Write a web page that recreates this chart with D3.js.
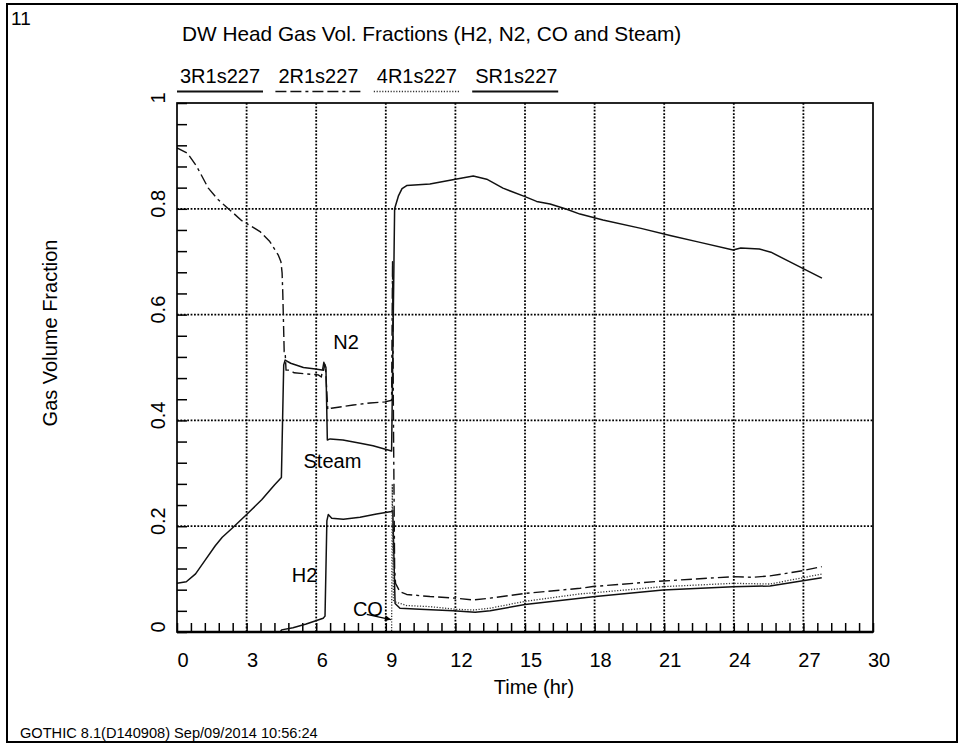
<!DOCTYPE html>
<html>
<head>
<meta charset="utf-8">
<script src="https://cdn.jsdelivr.net/npm/d3@7"></script>
<style>
  html, body { margin: 0; padding: 0; background: #fff; }
  svg { display: block; font-family: "Liberation Sans", Arial, sans-serif; }
</style>
</head>
<body>
<svg id="chart" width="965" height="746"></svg>
<script>
// ---- data: time (hr) vs gas volume fraction ----
const xTicks = [0, 3, 6, 9, 12, 15, 18, 21, 24, 27, 30];
const yTicks = [0, 0.2, 0.4, 0.6, 0.8, 1];
const yTickLabels = ["0", "0.2", "0.4", "0.6", "0.8", "1"];
const seriesNames = ["3R1s227", "2R1s227", "4R1s227", "SR1s227"];

// H2
const h2 = [[0,0],[4.45,0],[4.51,0.004],[5.0,0.008],[5.57,0.015],[6.3,0.026],[6.38,0.03],
  [6.46,0.21],[6.52,0.222],[6.67,0.215],[7.17,0.213],[7.89,0.217],[8.6,0.223],[9.25,0.228],
  [9.3,0.23],[9.4,0.054],[9.61,0.045],[10.47,0.043],[11.9,0.040],[12.85,0.0375],[13.5,0.040],
  [15.0,0.052],[17.37,0.0637],[17.93,0.0667],[20.95,0.0794],[23.97,0.0857],[25.56,0.087],
  [26.98,0.097],[27.79,0.1026]];

// N2
const n2 = [[0,0.915],[0.45,0.905],[0.85,0.88],[1.35,0.839],[1.78,0.817],[2.35,0.795],
  [2.78,0.778],[3.58,0.757],[4.0,0.738],[4.36,0.713],[4.48,0.70],[4.53,0.679],[4.56,0.64],
  [4.62,0.53],[4.66,0.53],[4.7,0.495],[4.85,0.495],[5.05,0.49],[6.09,0.486],[6.22,0.482],
  [6.33,0.51],[6.4,0.50],[6.5,0.42],[6.65,0.423],[7.6,0.429],[8.32,0.433],[8.97,0.435],
  [9.25,0.438],[9.29,0.70],[9.33,0.40],[9.38,0.12],[9.42,0.092],[9.61,0.076],[9.9,0.071],
  [10.9,0.067],[12.0,0.064],[12.77,0.0605],[13.5,0.064],[15.0,0.073],[17.37,0.0826],
  [17.93,0.086],[20.95,0.0964],[23.97,0.1046],[24.83,0.1034],[25.56,0.106],[26.98,0.116],
  [27.79,0.1235]];

// CO
const co = [[0,0],[9.25,0],[9.28,0.28],[9.33,0.06],[9.4,0.057],[9.9,0.05],[10.9,0.048],
  [12.0,0.043],[12.77,0.0416],[13.5,0.045],[15.0,0.058],[17.37,0.072],[17.93,0.074],
  [20.95,0.0857],[23.97,0.092],[25.56,0.0907],[26.98,0.1026],[27.79,0.1096]];

// Steam
const steam = [[0,0.092],[0.4,0.095],[0.8,0.11],[1.2,0.135],[1.65,0.163],[1.95,0.179],
  [2.4,0.197],[3.0,0.222],[3.65,0.25],[4.2,0.278],[4.5,0.292],[4.6,0.505],[4.66,0.514],
  [4.9,0.508],[5.45,0.50],[5.97,0.497],[6.32,0.495],[6.37,0.506],[6.42,0.50],[6.48,0.363],
  [6.6,0.365],[7.15,0.363],[7.9,0.357],[8.45,0.352],[9.25,0.342],[9.38,0.80],[9.55,0.825],
  [9.7,0.838],[9.9,0.844],[10.9,0.847],[12.0,0.856],[12.77,0.862],[13.35,0.856],[14.05,0.839],
  [15.0,0.823],[15.5,0.814],[16.08,0.809],[16.8,0.799],[17.37,0.79],[18.36,0.779],[20.0,0.763],
  [21.3,0.749],[22.5,0.737],[23.97,0.722],[24.3,0.726],[25.1,0.724],[25.6,0.718],[26.4,0.70],
  [27.8,0.669]];

// curve annotations, placed in data coordinates (hr, fraction)
const curveLabels = [
  { text: "N2",    t: 7.29, v: 0.548 },
  { text: "Steam", t: 6.70, v: 0.324 },
  { text: "H2",    t: 5.50, v: 0.108 },
  { text: "CO",    t: 8.23, v: 0.043 }
];
const coArrow = [[8.18, 0.0335], [9.22, 0.0236]];

// ---- drawing ----
const svg = d3.select("#chart");
const plot = { left: 177, right: 873, top: 103, bottom: 632 };
const x = d3.scaleLinear().domain([0, 30]).range([plot.left, plot.right]);
const y = d3.scaleLinear().domain([0, 1]).range([plot.bottom, plot.top]);

const dashStyles = {
  solid: null,
  dashdot: "11,4,11,4,3,4",
  dotted: "1.2,1.6"
};
const series = [
  { name: seriesNames[0], data: h2,    dash: dashStyles.solid,   width: 1.5, color: "#111" },
  { name: seriesNames[1], data: n2,    dash: dashStyles.dashdot, width: 1.4, color: "#111" },
  { name: seriesNames[2], data: co,    dash: dashStyles.dotted,  width: 1.3, color: "#333" },
  { name: seriesNames[3], data: steam, dash: dashStyles.solid,   width: 1.5, color: "#111" }
];

// outer page frame
svg.append("rect")
  .attr("x", 7).attr("y", 4).attr("width", 950).attr("height", 738)
  .attr("fill", "none").attr("stroke", "#000").attr("stroke-width", 2);

svg.append("text").attr("x", 11).attr("y", 25)
  .attr("font-size", 19).text("11");

svg.append("text")
  .attr("x", 182).attr("y", 41)
  .attr("font-size", 20.8)
  .text("DW Head Gas Vol. Fractions (H2, N2, CO and Steam)");

// legend row
const legend = svg.append("g");
const legStep = 98.4, legLen = 86;
seriesNames.forEach((name, i) => {
  const s = series[i];
  const x0 = plot.left + i * legStep;
  legend.append("text").attr("x", x0 + 3).attr("y", 83)
    .attr("font-size", 20).text(name);
  legend.append("line")
    .attr("x1", x0).attr("x2", x0 + legLen)
    .attr("y1", 91.5).attr("y2", 91.5)
    .attr("stroke", s.color).attr("stroke-width", s.width + 0.3)
    .attr("stroke-dasharray", s.dash);
});

// grid
const grid = svg.append("g").attr("stroke", "#000").attr("stroke-width", 1.8)
  .attr("stroke-dasharray", "1.8,1.6");
grid.selectAll(".vg").data(xTicks.slice(1, -1)).join("line")
  .attr("x1", d => x(d)).attr("x2", d => x(d))
  .attr("y1", plot.top).attr("y2", plot.bottom);
grid.selectAll(".hg").data(yTicks.slice(1, -1)).join("line")
  .attr("x1", plot.left).attr("x2", plot.right)
  .attr("y1", d => y(d)).attr("y2", d => y(d));

// minor ticks pointing inward
const xMinor = d3.range(0, 30.001, 0.6);
const yMinor = d3.range(0, 1.0001, 0.04);
svg.append("g").attr("transform", `translate(0,${plot.bottom})`)
  .call(d3.axisBottom(x).tickValues(xMinor).tickSizeInner(-9).tickSizeOuter(0).tickFormat(""))
  .call(g => g.select(".domain").remove())
  .selectAll("line").attr("stroke", "#000").attr("stroke-width", 1.5);
svg.append("g").attr("transform", `translate(${plot.left},0)`)
  .call(d3.axisLeft(y).tickValues(yMinor).tickSizeInner(-10).tickSizeOuter(0).tickFormat(""))
  .call(g => g.select(".domain").remove())
  .selectAll("line").attr("stroke", "#000").attr("stroke-width", 1.5);

// tick labels
svg.append("g").attr("transform", `translate(0,${plot.bottom})`)
  .call(d3.axisBottom(x).tickValues(xTicks).tickSize(0).tickPadding(21).tickFormat(d3.format("d")))
  .call(g => g.select(".domain").remove())
  .selectAll("text")
  .attr("dx", 5.5)
  .attr("font-size", 20).attr("font-family", "Liberation Sans, Arial, sans-serif")
  .attr("fill", "#000");

const yl = svg.append("g");
yl.selectAll("text").data(yTicks).join("text")
  .attr("transform", d => `translate(165,${y(d) - 5}) rotate(-90)`)
  .attr("text-anchor", "middle")
  .attr("font-size", 20)
  .text((d, i) => yTickLabels[i]);

// series lines
const line = d3.line().x(d => x(d[0])).y(d => y(d[1]));
svg.append("clipPath").attr("id", "plotclip").append("rect")
  .attr("x", plot.left).attr("y", plot.top - 2)
  .attr("width", plot.right - plot.left).attr("height", plot.bottom - plot.top + 2);
svg.append("g").attr("clip-path", "url(#plotclip)")
  .selectAll("path").data(series).join("path")
  .attr("d", d => line(d.data))
  .attr("fill", "none")
  .attr("stroke", d => d.color)
  .attr("stroke-width", d => d.width)
  .attr("stroke-linejoin", "round")
  .attr("stroke-dasharray", d => d.dash);

// plot frame; bottom axis heavier
svg.append("rect")
  .attr("x", plot.left).attr("y", plot.top)
  .attr("width", plot.right - plot.left).attr("height", plot.bottom - plot.top)
  .attr("fill", "none").attr("stroke", "#000").attr("stroke-width", 1.7);
svg.append("line")
  .attr("x1", plot.left).attr("x2", plot.right)
  .attr("y1", plot.bottom).attr("y2", plot.bottom)
  .attr("stroke", "#000").attr("stroke-width", 2.6);

// curve annotations
svg.append("g").selectAll("text").data(curveLabels).join("text")
  .attr("x", d => x(d.t)).attr("y", d => y(d.v) + 7)
  .attr("text-anchor", "middle")
  .attr("font-size", 20)
  .text(d => d.text);

svg.append("defs").append("marker")
  .attr("id", "arrowhead").attr("viewBox", "0 0 10 10")
  .attr("refX", 10).attr("refY", 5)
  .attr("markerWidth", 9).attr("markerHeight", 6)
  .attr("markerUnits", "userSpaceOnUse")
  .attr("orient", "auto")
  .append("path").attr("d", "M0,0L10,5L0,10Z").attr("fill", "#000");
svg.append("line")
  .attr("x1", x(coArrow[0][0])).attr("y1", y(coArrow[0][1]))
  .attr("x2", x(coArrow[1][0])).attr("y2", y(coArrow[1][1]))
  .attr("stroke", "#000").attr("stroke-width", 1.3)
  .attr("marker-end", "url(#arrowhead)");

// axis titles
svg.append("text")
  .attr("x", 534).attr("y", 694)
  .attr("text-anchor", "middle").attr("font-size", 20)
  .text("Time (hr)");
svg.append("text")
  .attr("transform", `translate(57,333) rotate(-90)`)
  .attr("text-anchor", "middle").attr("font-size", 20)
  .text("Gas Volume Fraction");

svg.append("text")
  .attr("x", 20).attr("y", 738)
  .attr("font-size", 14.6)
  .text("GOTHIC 8.1(D140908) Sep/09/2014 10:56:24");
</script>
</body>
</html>
